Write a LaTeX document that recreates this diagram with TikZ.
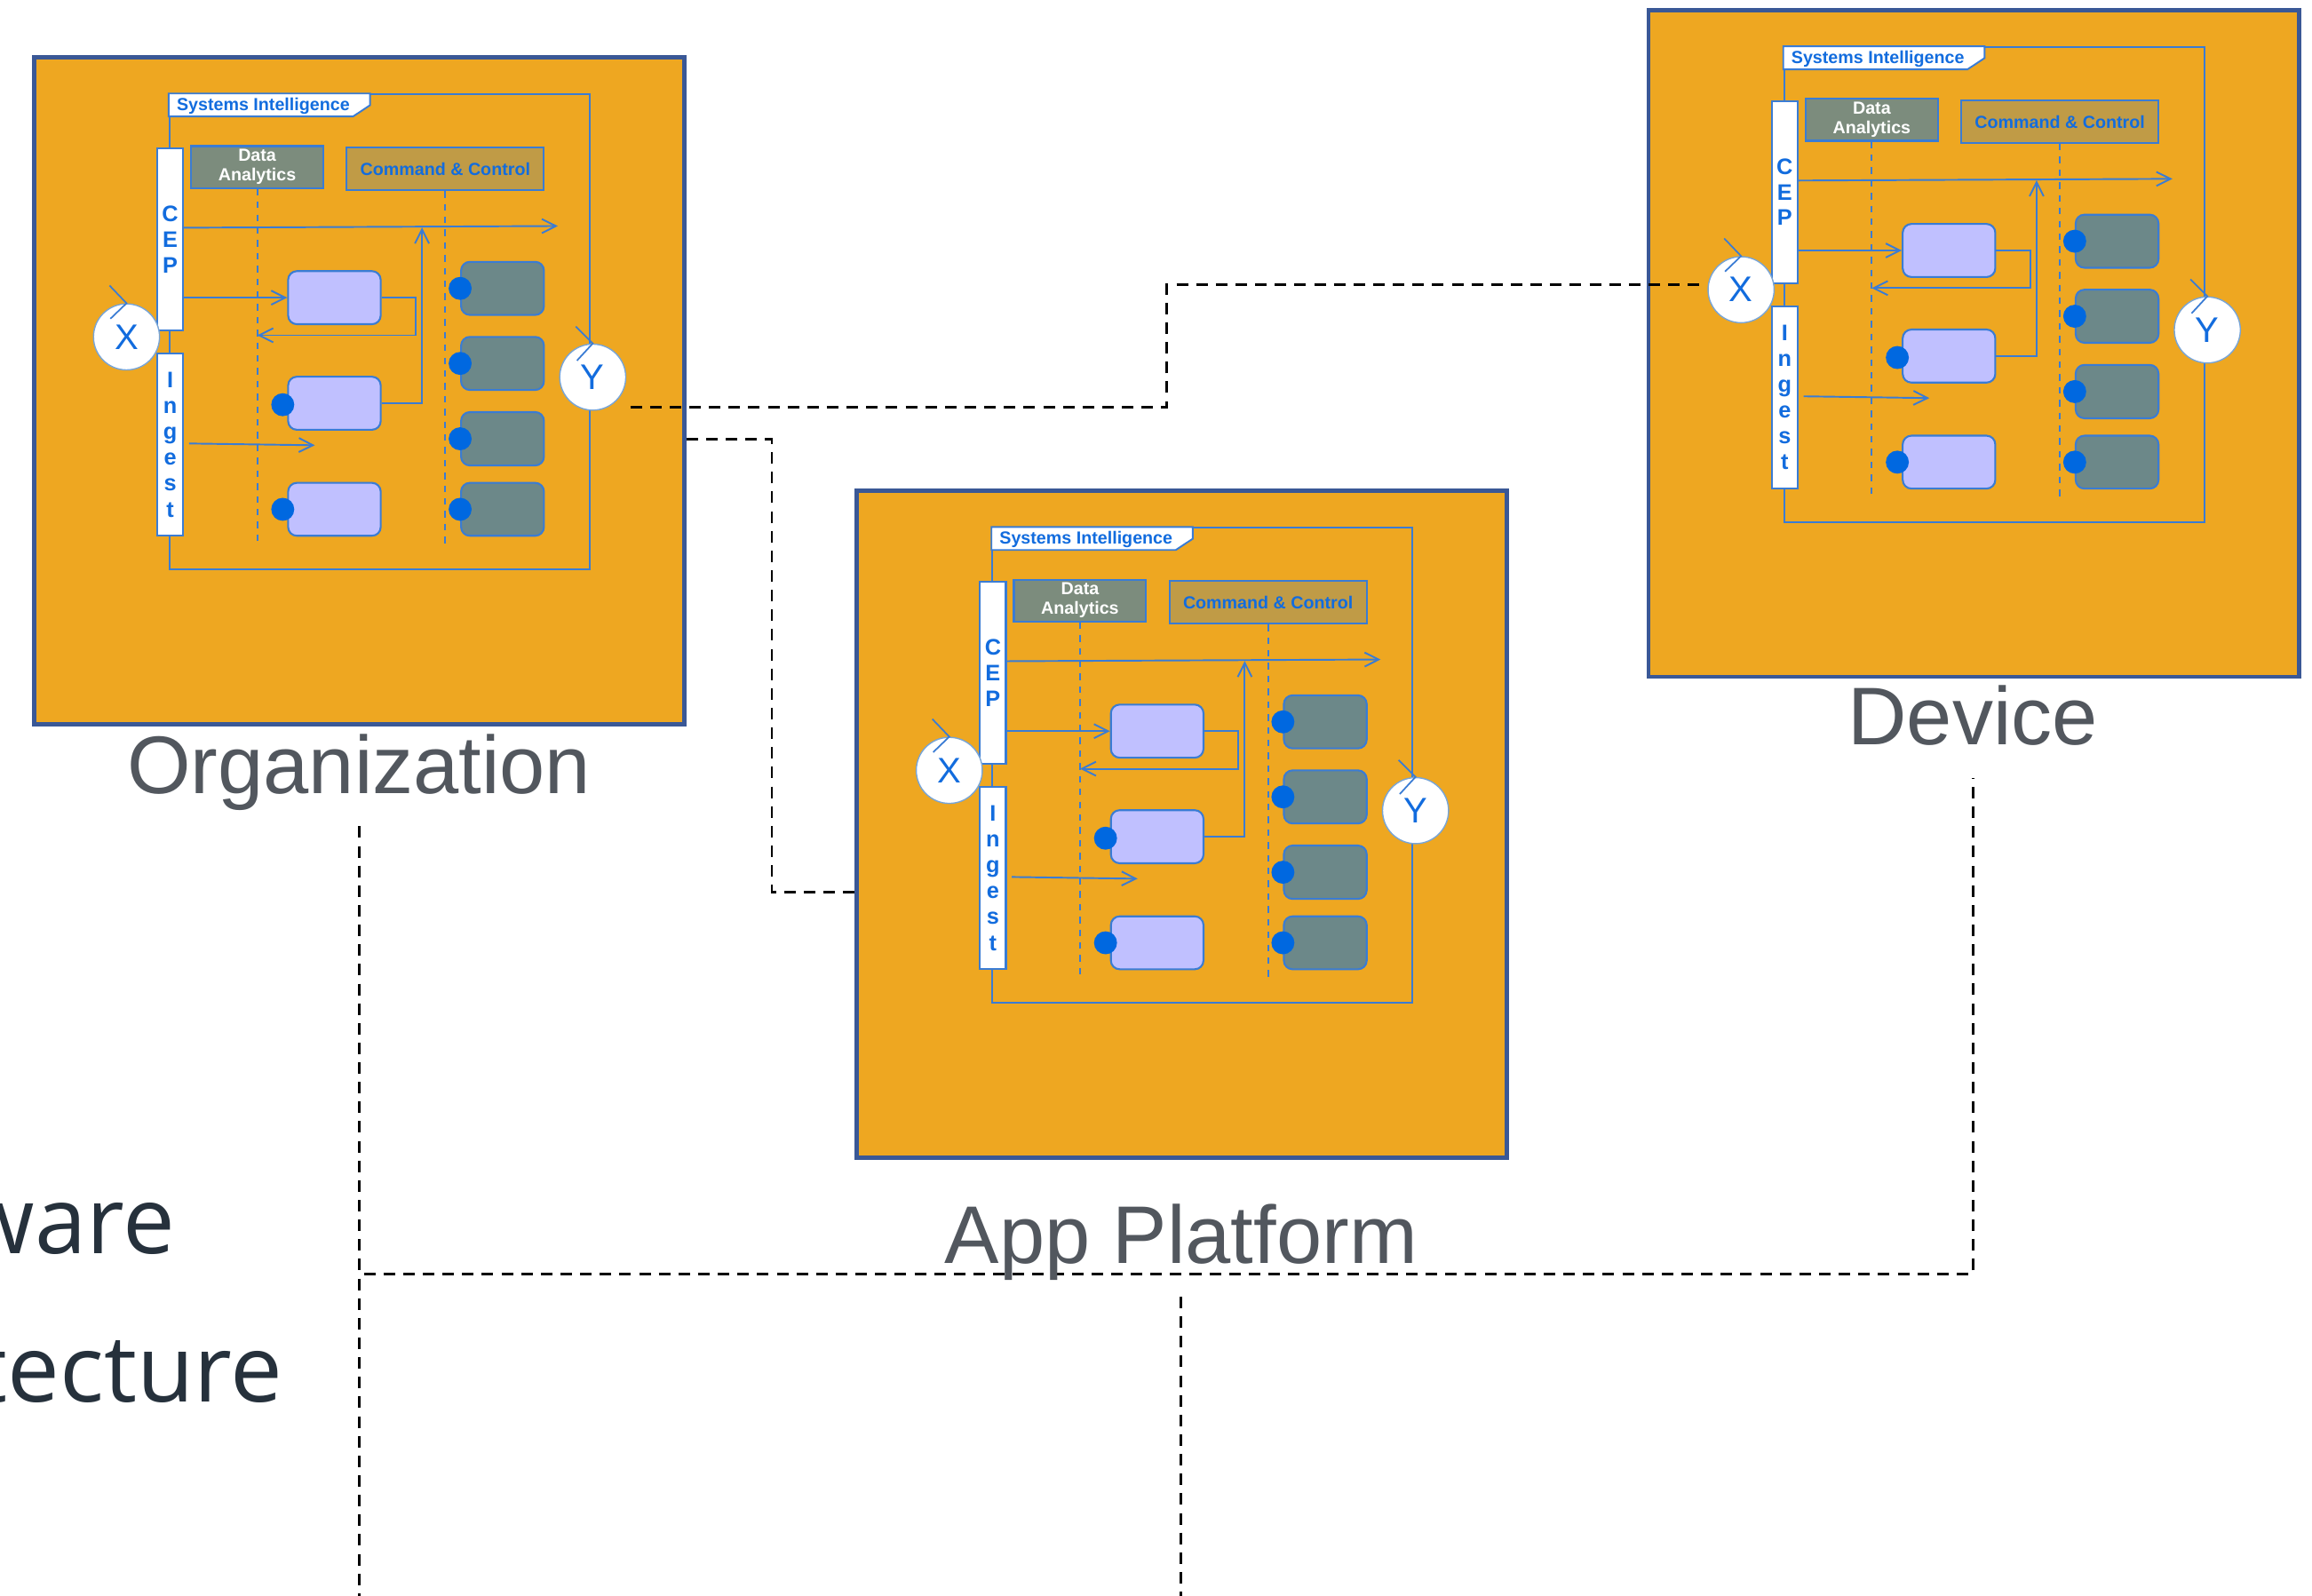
\documentclass[tikz,border=0pt]{standalone}
\usepackage{fontspec}
\setmainfont{Liberation Sans}
\newfontfamily\slidefont{Open Sans}
\usetikzlibrary{arrows.meta,calc}

\definecolor{panelorange}{RGB}{238,167,33}
\definecolor{panelblue}{RGB}{58,88,150}
\definecolor{umlblue}{RGB}{58,124,212}
\definecolor{textblue}{RGB}{18,108,222}
\definecolor{ringblue}{RGB}{120,165,215}
\definecolor{actpurple}{RGB}{192,192,255}
\definecolor{devgray}{RGB}{108,136,137}
\definecolor{dagreen}{RGB}{124,140,125}
\definecolor{ccgold}{RGB}{192,155,70}
\definecolor{dotblue}{RGB}{0,104,224}
\definecolor{labelgray}{RGB}{82,87,94}
\definecolor{slideink}{RGB}{38,49,60}

\newcommand\pxu{0.0166cm}

\pgfdeclarelayer{front}
\pgfsetlayers{main,front}

\tikzset{
  corners/.style n args={4}{at={({(#1+#3)/2},{(#2+#4)/2})},
      minimum width={(#3-#1)*\pxu}, minimum height={(#4-#2)*\pxu}},
  panelbox/.style={draw=panelblue, line width=1.4pt, fill=panelorange, inner sep=0pt},
  siframe/.style={draw=umlblue, line width=0.55pt, inner sep=0pt},
  tabline/.style={draw=umlblue, fill=white, line width=0.55pt},
  tabtext/.style={inner sep=0pt, text=textblue, font=\fontsize{5.6}{6}\selectfont\bfseries},
  dahead/.style={draw=umlblue, fill=dagreen, line width=0.6pt, inner sep=0pt,
      text=white, align=center, font=\fontsize{5.6}{6.2}\selectfont\bfseries},
  cchead/.style={draw=umlblue, fill=ccgold, line width=0.6pt, inner sep=0pt,
      text=textblue, align=center, font=\fontsize{5.6}{6.2}\selectfont\bfseries},
  lifeline/.style={draw=umlblue, line width=0.55pt, dash pattern=on 2.1pt off 2pt},
  actbox/.style={draw=umlblue, fill=actpurple, rounded corners=2.8pt, line width=0.6pt, inner sep=0pt},
  devbox/.style={draw=umlblue, fill=devgray, rounded corners=2.8pt, line width=0.6pt, inner sep=0pt},
  plug/.style={circle, fill=dotblue, minimum size={15.6*\pxu}, inner sep=0pt},
  bar/.style={draw=umlblue, fill=white, line width=0.6pt, inner sep=0pt, text=textblue, align=center},
  port/.style={circle, draw=ringblue, fill=white, line width=0.4pt, minimum size={44.8*\pxu},
      inner sep=0pt, text=textblue, font=\fontsize{11.4}{12}\selectfont},
  msg/.style={draw=umlblue, line width=0.55pt, -{Straight Barb[length=4.5pt,width=4.5pt]}},
  chev/.style={draw=umlblue, line width=0.5pt},
  link/.style={draw=black, line width=0.77pt, dash pattern=on 3.7pt off 2.6pt},
  place/.style={font=\fontsize{26.2}{28}\selectfont, text=labelgray, inner xsep=0pt,
      inner ysep=10.4pt, text depth=0pt, anchor=base},
  slide/.style={font=\slidefont\fontsize{29.8}{32}\selectfont, text=slideink, inner sep=0pt}
}

% One "Systems Intelligence" panel: #1 name prefix, (#2,#3) top-left corner
\newcommand\sipanel[3]{%
\begin{scope}[shift={(#2,#3)}]
  \node[panelbox, corners={0}{0}{441}{452}] (#1-box) {};
  \node[siframe, corners={92}{25}{377}{347}] (#1-frame) {};
  \draw[tabline] (#1-frame.north west) -- ++(136.5,0) -- ++(0,8) -- ++(-11.5,7.6) -- ++(-125,0) -- cycle;
  \node[tabtext, anchor=west] (#1-si) at (96.5,33) {Systems Intelligence};
  \node[dahead, corners={106.6}{60.1}{196.3}{88.5}] (#1-da) {Data\\Analytics};
  \node[cchead, corners={212.1}{61.2}{345.9}{90}] (#1-cc) {Command \& Control};
  \coordinate (#1-daend) at (151.45,330.4);
  \coordinate (#1-ccend) at (279,332);
  \draw[lifeline] (#1-da.south) -- (#1-daend);
  \draw[lifeline] (#1-cc.south) -- (#1-ccend);
  \node[actbox, corners={172.4}{144.9}{235.2}{180.9}] (#1-p1) {};
  \node[actbox, corners={172.4}{216.5}{235.2}{252.5}] (#1-p2) {};
  \node[actbox, corners={172.4}{288.5}{235.2}{324.4}] (#1-p3) {};
  \node[devbox, corners={289.7}{138.6}{345.9}{174.6}] (#1-g1) {};
  \node[devbox, corners={289.7}{189.5}{345.9}{225.5}] (#1-g2) {};
  \node[devbox, corners={289.7}{240.5}{345.9}{276.7}] (#1-g3) {};
  \node[devbox, corners={289.7}{288.5}{345.9}{324.4}] (#1-g4) {};
  \node[plug] (#1-p2dot) at ($(#1-p2.west)+(-3,1)$) {};
  \node[plug] (#1-p3dot) at ($(#1-p3.west)+(-3,0)$) {};
  \node[plug] (#1-g1dot) at (#1-g1.west) {};
  \node[plug] (#1-g2dot) at (#1-g2.west) {};
  \node[plug] (#1-g3dot) at (#1-g3.west) {};
  \node[plug] (#1-g4dot) at (#1-g4.west) {};
  \node[bar, corners={83.6}{61.6}{101.2}{185}, font=\fontsize{7.2}{8.2}\selectfont\bfseries] (#1-cep) {C\\E\\P};
  \node[bar, corners={83.6}{200.7}{101.2}{324.3}, font=\fontsize{7.2}{8.3}\selectfont\bfseries] (#1-ing) {I\\n\\g\\e\\s\\t};
  % messages between the lanes
  \coordinate (#1-top) at (355.3,114.3);
  \draw[msg] ($(#1-cep.north east)+(0,54.5)$) -- (#1-top);
  \draw[msg] (#1-cep.east |- #1-p1.west) -- (#1-p1.west);
  \coordinate (#1-back) at (151.45,188.4);
  \draw[msg] (#1-p1.east) -- ++(23,0) |- (#1-back);
  \coordinate (#1-up) at (263.2,115.3);
  \draw[msg] (#1-p2.east) -| (#1-up);
  \coordinate (#1-feed) at (190.5,263);
  \draw[msg] ($(#1-ing.east |- #1-feed)+(3.4,-1.2)$) -- (#1-feed);
  % entry and exit ports
  \node[port] (#1-x) at (62.8,189.5) {X};
  \node[port] (#1-y) at (379,216.8) {Y};
  \draw[chev] ($(#1-x.north)+(-11.5,-12)$) -- (#1-x.north) -- ++(-10.9,10.5);
  \draw[chev] ($(#1-y.north)+(-11.5,-11.5)$) -- (#1-y.north) -- ++(-10.7,11.6);
\end{scope}}

\begin{document}
\begin{tikzpicture}[x=\pxu, y=-\pxu]
  \useasboundingbox (0,0) rectangle (1568,1082);

  \sipanel{org}{23}{39}
  \sipanel{app}{581}{333}
  \sipanel{dev}{1118}{7}

  \begin{pgfonlayer}{front}
    \node[place] (org-label) at (243.5,538) {Organization};
    \node[place] (app-label) at (801,857) {App Platform};
    \node[place] (dev-label) at (1338,505) {Device};
  \end{pgfonlayer}

  \node[slide, anchor=base east] (sw-word) at (119,850) {ware};
  \node[slide, anchor=base east] (arch-word) at (192,951) {tecture};

  % links between the tiers
  \coordinate (org-yout) at ($(org-y.east)+(2.6,20.2)$);
  \coordinate (dev-xin) at ($(dev-x.west)+(0,-3.5)$);
  \draw[link] (org-yout) -- ++(364,0) |- (dev-xin);
  \coordinate (org-bout) at ($(org-box.east)+(0,33)$);
  \coordinate (app-bin) at ($(app-box.west)+(0,46)$);
  \draw[link] (org-bout) -- ++(58,0) |- (app-bin);
  \coordinate (bus) at (1338,864);
  \draw[link] (org-label.south) |- (bus) -- (dev-label.south);
  \coordinate (org-foot) at (243.5,1090);
  \draw[link] (org-label.south) -- (org-foot);
  \coordinate (app-foot) at (801,1090);
  \draw[link] (app-label.south) -- (app-foot);
\end{tikzpicture}
\end{document}
